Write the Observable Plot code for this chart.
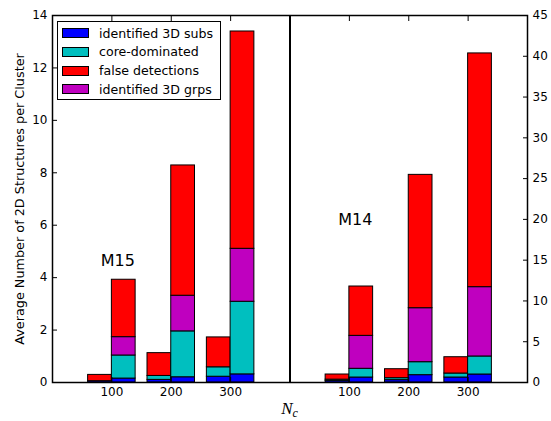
<!DOCTYPE html>
<html><head><meta charset="utf-8">
<script src="https://cdn.jsdelivr.net/npm/d3@7"></script>
<script src="https://cdn.jsdelivr.net/npm/@observablehq/plot@0.6"></script>
<style>
body{margin:0;background:#fff;}
#wrap{position:relative;width:551px;height:421px;font-family:"DejaVu Sans",sans-serif;}
#legend{position:absolute;left:57px;top:21px;width:164px;height:79px;border:1px solid #000;background:#fff;box-sizing:border-box;}
.row{position:absolute;left:0;height:14px;display:flex;align-items:center;font-size:12.6px;color:#000;white-space:nowrap;}
.sw{position:absolute;left:4px;width:27px;height:10px;border:1px solid #000;box-sizing:border-box;}
.lb{position:absolute;left:41px;}
</style>
</head><body>
<div id="wrap"><div id="chart"></div><div id="legend"></div></div>
<script>
// ---- data ----
const ncTicks = [100, 200, 300];
const clusterNames = ["M15", "M14"];
const seriesNames = ["identified 3D subs", "core-dominated", "false detections", "identified 3D grps"];
const seriesColors = ["#0000ff", "#00bfbf", "#ff0000", "#bf00bf"];
const leftTicks = [0, 2, 4, 6, 8, 10, 12, 14];
const rightTicks = [0, 5, 10, 15, 20, 25, 30, 35, 40, 45];
const yLabel = "Average Number of 2D Structures per Cluster";

// M15 (left axis, 0-14): segment heights per Nc
const m15ShortSubs  = [0.05, 0.10, 0.22];
const m15ShortCore  = [0.00, 0.15, 0.36];
const m15ShortFalse = [0.24, 0.87, 1.14];
const m15TallSubs   = [0.15, 0.20, 0.31];
const m15TallCore   = [0.88, 1.75, 2.77];
const m15TallGrps   = [0.70, 1.36, 2.02];
const m15TallFalse  = [2.19, 4.97, 8.29];

// M14 (right axis, 0-45)
const m14ShortSubs  = [0.20, 0.29, 0.61];
const m14ShortCore  = [0.15, 0.24, 0.49];
const m14ShortFalse = [0.63, 1.10, 2.00];
const m14TallSubs   = [0.61, 0.90, 0.98];
const m14TallCore   = [1.07, 1.59, 2.21];
const m14TallGrps   = [4.04, 6.62, 8.50];
const m14TallFalse  = [6.05, 16.35, 28.66];

const annotationText = ["M15", "M14"];
const annotationNc = [110, 110];
const annotationVal = [4.65, 19.9];

// ---- layout helpers ----
const panelOffset = [0, 400];
const barW = 40;
const rightFactor = 14 / 45;
const panelFactor = [1, rightFactor];

const rows = [];
function addStack(panel, side, segs) {
  ncTicks.forEach((nc, i) => {
    const c = nc + panelOffset[panel];
    const x1 = side === 0 ? c - barW : c;
    const x2 = side === 0 ? c : c + barW;
    let acc = 0;
    segs.forEach(([name, vals]) => {
      const y1 = acc; acc += vals[i];
      rows.push({x1, x2, y1: y1 * panelFactor[panel], y2: acc * panelFactor[panel], series: name});
    });
  });
}
addStack(0, 0, [[seriesNames[0], m15ShortSubs], [seriesNames[1], m15ShortCore], [seriesNames[2], m15ShortFalse]]);
addStack(0, 1, [[seriesNames[0], m15TallSubs], [seriesNames[1], m15TallCore], [seriesNames[3], m15TallGrps], [seriesNames[2], m15TallFalse]]);
addStack(1, 0, [[seriesNames[0], m14ShortSubs], [seriesNames[1], m14ShortCore], [seriesNames[2], m14ShortFalse]]);
addStack(1, 1, [[seriesNames[0], m14TallSubs], [seriesNames[1], m14TallCore], [seriesNames[3], m14TallGrps], [seriesNames[2], m14TallFalse]]);

const xTickPos = panelOffset.flatMap(o => ncTicks.map(n => n + o));
const annotations = annotationText.map((t, i) => ({t, x: annotationNc[i] + panelOffset[i], y: annotationVal[i] * panelFactor[i]}));

const plot = Plot.plot({
  width: 551, height: 421,
  marginLeft: 52, marginRight: 24, marginTop: 15, marginBottom: 39,
  x: {domain: [0, 800]},
  y: {domain: [0, 14]},
  color: {domain: seriesNames, range: seriesColors},
  style: {fontFamily: "DejaVu Sans", fontSize: "12px", color: "#000", background: "#fff"},
  marks: [
    Plot.rect(rows, {x1: "x1", x2: "x2", y1: "y1", y2: "y2", fill: "series", stroke: "#000", strokeWidth: 1}),
    Plot.ruleX([400], {stroke: "#000", strokeWidth: 2}),
    Plot.text(annotations, {x: "x", y: "y", text: "t", fontSize: 16, fill: "#000"}),
    Plot.axisY(leftTicks, {anchor: "left", tickSize: -5, tickPadding: 10, label: null, stroke: "#000", fill: "#000"}),
    Plot.axisY(rightTicks.map(v => v * rightFactor), {anchor: "right", tickSize: -5, tickPadding: 10, label: null, stroke: "#000", fill: "#000", tickFormat: d => String(Math.round(d / rightFactor))}),
    Plot.axisX(xTickPos, {anchor: "bottom", tickSize: -5, tickPadding: 10, label: null, stroke: "#000", fill: "#000", tickFormat: d => String(d % 400)}),
    Plot.axisX(xTickPos, {anchor: "top", tickSize: -5, label: null, stroke: "#000", fill: "none"}),
    Plot.frame({stroke: "#000", strokeWidth: 1.5}),
    Plot.text([yLabel], {frameAnchor: "left", textAnchor: "middle", lineAnchor: "middle", rotate: -90, dx: -33, fontSize: 12.8, fill: "#000"})
  ]
});
document.getElementById("chart").appendChild(plot);

// x axis label N_c
const xs = plot.scale("x");
const lab = d3.select(plot).append("text")
  .attr("x", xs.apply(400)).attr("y", 414)
  .attr("text-anchor", "middle")
  .attr("font-family", "Liberation Serif, serif")
  .attr("font-style", "italic")
  .attr("font-size", 17)
  .attr("fill", "#000");
lab.append("tspan").text("N");
lab.append("tspan").attr("font-size", 12).attr("dy", 3).text("c");

// legend
const legendOrder = [0, 1, 2, 3];
const leg = document.getElementById("legend");
legendOrder.forEach((k, i) => {
  const r = document.createElement("div");
  r.className = "row";
  r.style.top = (4 + i * 18.8) + "px";
  r.innerHTML = `<span class="sw" style="background:${seriesColors[k]}"></span><span class="lb">${seriesNames[k]}</span>`;
  leg.appendChild(r);
});
</script>
</body></html>
